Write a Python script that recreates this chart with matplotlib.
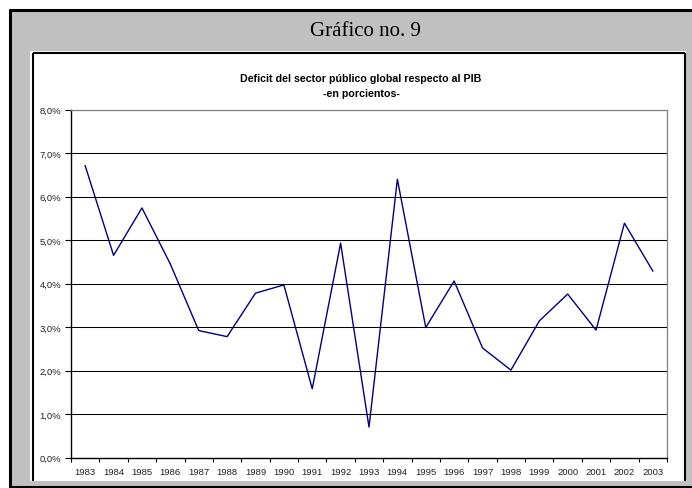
import matplotlib
matplotlib.use("Agg")
import matplotlib.pyplot as plt
from matplotlib.patches import Rectangle
from matplotlib.lines import Line2D
import numpy as np

years = ["1983", "1984", "1985", "1986", "1987", "1988", "1989", "1990", "1991", "1992", "1993",
         "1994", "1995", "1996", "1997", "1998", "1999", "2000", "2001", "2002", "2003"]
deficit = [6.71, 4.65, 5.74, 4.45, 2.92, 2.78, 3.78, 3.97, 1.58, 4.93, 0.70,
           6.40, 2.99, 4.06, 2.52, 2.01, 3.14, 3.76, 2.93, 5.39, 4.29]
yticks = [0, 1, 2, 3, 4, 5, 6, 7, 8]
ytick_labels = ["0,0%", "1,0%", "2,0%", "3,0%", "4,0%", "5,0%", "6,0%", "7,0%", "8,0%"]

W, H = 692, 489
fig = plt.figure(figsize=(W / 100, H / 100), dpi=100)
fig.patch.set_facecolor("white")


def fx(x):
    return x / W


def fy(y):
    return 1 - y / H


def rect(x0, y0, x1, y1, **kw):
    fig.patches.append(Rectangle((fx(x0), fy(y1)), fx(x1) - fx(x0), fy(y0) - fy(y1),
                                 transform=fig.transFigure, **kw))


def line(x0, y0, x1, y1, lw=1.5, color="black"):
    fig.lines.append(Line2D([fx(x0), fx(x1)], [fy(y0), fy(y1)], transform=fig.transFigure,
                            color=color, lw=lw, solid_capstyle="butt"))


# outer gray frame
rect(9, 10, W + 5, H + 5, facecolor="#c0c0c0", edgecolor="none", zorder=0)
line(9, 10.5, W, 10.5, lw=2.2)
line(9.5, 10, 9.5, H, lw=2.2)
line(9, 488, W, 488, lw=2.2)

# inner white panel
rect(30, 52, 686, 482, facecolor="white", edgecolor="none", zorder=1)
line(33, 54, 685, 54, lw=1.5)
line(33, 54, 33, 482, lw=1.5)
line(684.5, 54, 684.5, 482, lw=1.5)

fig.text(fx(365), fy(32), "Gráfico no. 9", family="Liberation Serif", fontsize=15,
         ha="center", va="center", color="black")
fig.text(fx(361), fy(79), "Deficit del sector público global respecto al PIB",
         family="Liberation Sans", fontweight="bold", fontsize=7.7, ha="center", va="center")
fig.text(fx(361), fy(94), "-en porcientos-",
         family="Liberation Sans", fontweight="bold", fontsize=7.7, ha="center", va="center")

left, right, top, bottom = 71, 667, 110.7, 458.5
ax = fig.add_axes([fx(left), fy(bottom), fx(right) - fx(left), fy(top) - fy(bottom)])
ax.set_facecolor("white")
ax.set_zorder(3)

x = np.arange(len(years))
ax.plot(x, deficit, color="#000080", lw=1.0, zorder=3)

ax.set_xlim(-0.5, len(years) - 0.5)
ax.set_ylim(0, 8)
ax.set_yticks(yticks)
ax.set_yticklabels(ytick_labels)
ax.yaxis.grid(True, color="black", lw=0.75)
ax.set_axisbelow(True)

ax.set_xticks(np.arange(-0.5, len(years), 1.0))
ax.set_xticklabels([])
ax.set_xticks(x, minor=True)
ax.set_xticklabels(years, minor=True)
ax.tick_params(axis="x", which="minor", length=0, pad=7)
ax.tick_params(axis="x", which="major", length=3, width=0.8, direction="out")
ax.tick_params(axis="y", length=4, width=0.8, direction="out", pad=3)
for lab in ax.get_xticklabels(minor=True) + ax.get_yticklabels():
    lab.set_fontfamily("Liberation Sans")
    lab.set_fontsize(6.8)
    lab.set_color("#222222")

ax.spines["left"].set_color("black")
ax.spines["left"].set_linewidth(1.0)
ax.spines["bottom"].set_color("black")
ax.spines["bottom"].set_linewidth(1.0)
ax.spines["top"].set_color("#808080")
ax.spines["top"].set_linewidth(0.9)
ax.spines["right"].set_color("#808080")
ax.spines["right"].set_linewidth(0.9)

fig.savefig("out.png", dpi=100)
